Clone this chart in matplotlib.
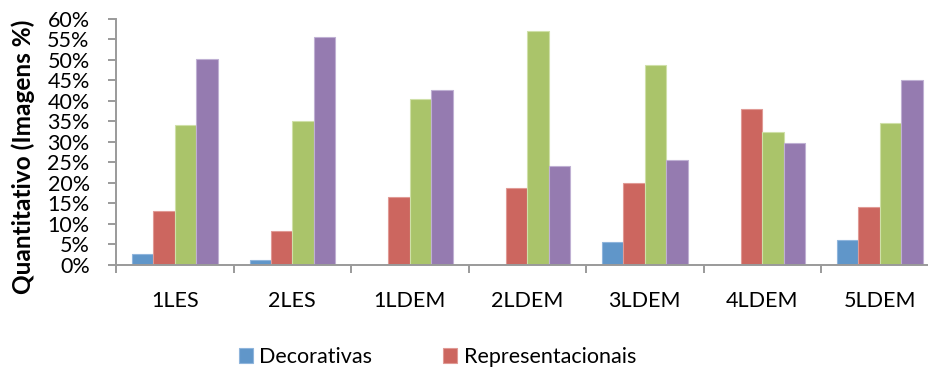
import numpy as np
import matplotlib

matplotlib.use("Agg")
from matplotlib import pyplot as plt
from matplotlib.ticker import FixedLocator, FuncFormatter

plt.rcParams["font.family"] = ["Lato", "DejaVu Sans"]

groups = ["1LES", "2LES", "1LDEM", "2LDEM", "3LDEM", "4LDEM", "5LDEM"]
decorativas = [2.7, 1.2, 0.0, 0.0, 5.7, 0.0, 6.0]
representacionais = [13.2, 8.2, 16.6, 18.9, 20.0, 38.0, 14.2]
serie_verde = [34.1, 35.0, 40.6, 57.0, 48.7, 32.4, 34.6]
serie_roxa = [50.2, 55.6, 42.8, 24.2, 25.6, 29.7, 45.0]

series = [decorativas, representacionais, serie_verde, serie_roxa]
colors = ["#6096c9", "#cc665f", "#aac46a", "#957bb0"]
edges = ["#8fb5dc", "#e09a95", "#cfe0a8", "#bfb0d3"]
legend_labels = ["Decorativas", "Representacionais"]

AXIS_GREY = "#9a9a9a"
FS = 15.5

fig = plt.figure(figsize=(9.29, 3.68), dpi=100)
ax = fig.add_axes([0.1249, 0.2799, 0.8854, 0.6685])

x = np.arange(len(groups)) + 0.5
width = 0.1818
containers = []
for i, (vals, c, e) in enumerate(zip(series, colors, edges)):
    offs = (i - 1.5) * width
    bars = ax.bar(x + offs, np.array(vals) / 100, width, color=c,
                  edgecolor=e, linewidth=0.8)
    containers.append(bars)

ax.set_xlim(0, len(groups))
ax.set_ylim(0, 0.6)

# group boundaries carry the tick marks, labels sit at the group centres
ax.xaxis.set_major_locator(FixedLocator(np.arange(len(groups) + 1)))
ax.xaxis.set_minor_locator(FixedLocator(x))
ax.set_xticklabels([])
ax.set_xticklabels(groups, minor=True)
ax.tick_params(axis="x", which="major", length=6, width=1.4, color=AXIS_GREY,
               direction="out")
ax.tick_params(axis="x", which="minor", length=0, pad=19, labelsize=FS)

ax.set_yticks(np.arange(0, 0.61, 0.05))
ax.yaxis.set_major_formatter(FuncFormatter(lambda v, p: f"{v * 100:.0f}%"))
ax.tick_params(axis="y", length=6, width=1.4, color=AXIS_GREY, pad=13,
               labelsize=FS)

for side in ["top", "right"]:
    ax.spines[side].set_visible(False)
for side in ["left", "bottom"]:
    ax.spines[side].set_color(AXIS_GREY)
    ax.spines[side].set_linewidth(1.4)

fig.text(0.025, 0.575, "Quantitativo (Imagens %)", rotation=90, ha="center",
         va="center", fontsize=17.6, fontweight="bold")

fig.legend(containers[:2], legend_labels, ncol=2, frameon=False,
           loc="lower left", bbox_to_anchor=(0.257, 0.003), fontsize=FS,
           handlelength=0.65, handleheight=0.65, handletextpad=0.3,
           columnspacing=3.3, borderaxespad=0, borderpad=0)

fig.savefig("out.png", dpi=100)
